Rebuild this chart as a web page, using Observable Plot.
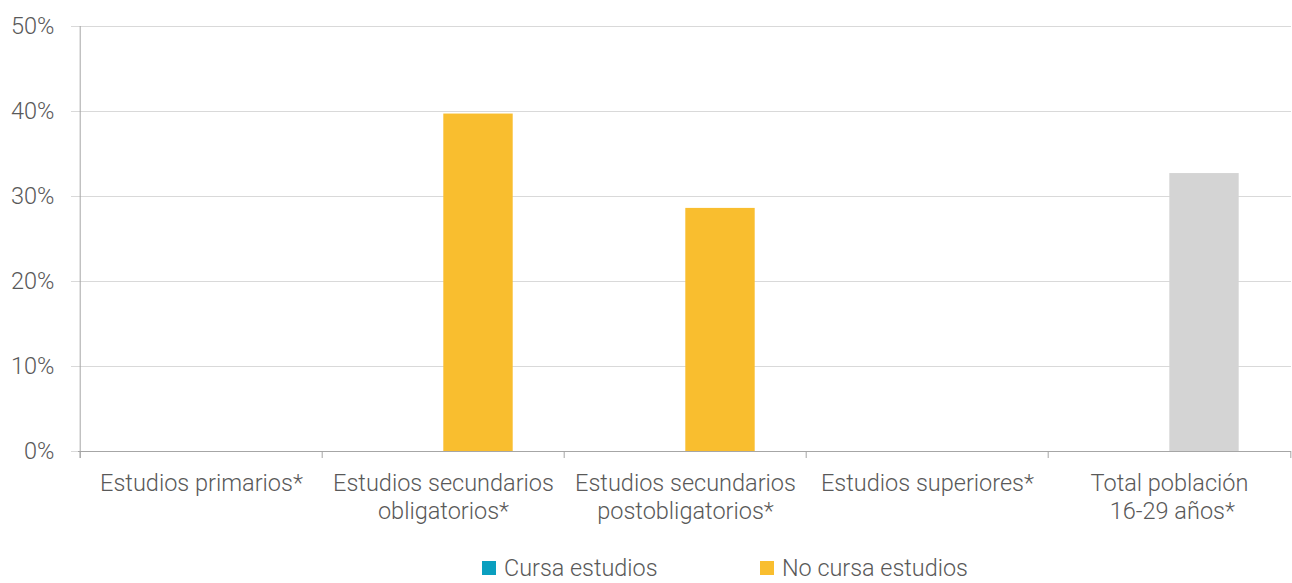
<!DOCTYPE html>
<html><head><meta charset="utf-8">
<script src="https://cdn.jsdelivr.net/npm/d3@7"></script>
<script src="https://cdn.jsdelivr.net/npm/@observablehq/plot@0.6"></script>
<style>
body{margin:0;background:#fff;font-family:Roboto,sans-serif;}
#legend{position:relative;height:38px;font-size:23.4px;color:#595959;font-weight:300;line-height:26px;}
.item{position:absolute;top:10px;display:flex;align-items:center;}
.sw{width:14px;height:14px;margin-right:8px;display:inline-block;}
</style></head><body>
<div id="chart"></div>
<div id="legend"></div>
<script>
const categories = ["Estudios primarios*", "Estudios secundarios obligatorios*", "Estudios secundarios postobligatorios*", "Estudios superiores*", "Total población 16-29 años*"];
const tickLabels = ["Estudios primarios*", "Estudios secundarios\nobligatorios*", "Estudios secundarios\npostobligatorios*", "Estudios superiores*", "Total población\n 16-29 años*"];
const seriesNames = ["Cursa estudios", "No cursa estudios"];
const cursaValues = [null, null, null, null, null];
const noCursaValues = [null, 39.7, 28.6, null, 32.7];
const yTicks = [0, 10, 20, 30, 40, 50];
const seriesColors = ["#0a9fbf", "#f9be2f"];
const totalColor = "#d4d4d4";

const W = 1292, H = 545, ML = 78, MR = 1, MT = 26, MB = 94;
const bw = (W - ML - MR) / categories.length;
const barW = 70;
const inner = (bw - 2 * barW) / 2;

const cursa = categories.map((c, i) => ({cat: c, v: cursaValues[i]}));
const noCursa = categories.map((c, i) => ({cat: c, v: noCursaValues[i], total: i === categories.length - 1}));
const seps = categories.map(c => ({cat: c}));

const chart = Plot.plot({
  width: W, height: H, marginLeft: ML, marginRight: MR, marginTop: MT, marginBottom: MB,
  style: {fontFamily: "Roboto, sans-serif", background: "#fff", fontWeight: 300},
  x: {domain: categories, padding: 0},
  y: {domain: [0, 50]},
  marks: [
    Plot.gridY(yTicks, {stroke: "#d9d9d9", strokeOpacity: 1}),
    Plot.axisY(yTicks, {tickSize: 7, tickPadding: 17, fontSize: 23.5, stroke: "#d9d9d9", fill: "#595959", tickFormat: d => d + "%", label: null}),
    Plot.barY(cursa, {x: "cat", y: "v", fill: seriesColors[0], insetLeft: inner, insetRight: inner + barW}),
    Plot.barY(noCursa, {x: "cat", y: "v", fill: d => d.total ? totalColor : seriesColors[1], insetLeft: inner + barW, insetRight: inner}),
    Plot.ruleY([0], {stroke: "#a6a6a6"}),
    Plot.ruleX(seps, {x: "cat", dx: -bw / 2, y1: 0, y2: 0, insetBottom: -7, stroke: "#a6a6a6"}),
    Plot.ruleX(seps.slice(-1), {x: "cat", dx: bw / 2, y1: 0, y2: 0, insetBottom: -7, stroke: "#a6a6a6"}),
    Plot.ruleX(seps.slice(0, 1), {x: "cat", dx: -bw / 2, insetBottom: -7, stroke: "#a6a6a6"}),
    Plot.axisX({tickSize: 0, tickPadding: 19, fontSize: 23.5, fill: "#595959", lineHeight: 1.2, label: null,
      tickFormat: c => tickLabels[categories.indexOf(c)]})
  ]
});
document.getElementById("chart").appendChild(chart);

const legend = document.getElementById("legend");
const lefts = [482, 760];
seriesNames.forEach((name, i) => {
  const it = document.createElement("div");
  it.className = "item";
  it.style.left = lefts[i] + "px";
  it.innerHTML = `<span class="sw" style="background:${seriesColors[i]}"></span><span>${name}</span>`;
  legend.appendChild(it);
});
</script>
</body></html>
